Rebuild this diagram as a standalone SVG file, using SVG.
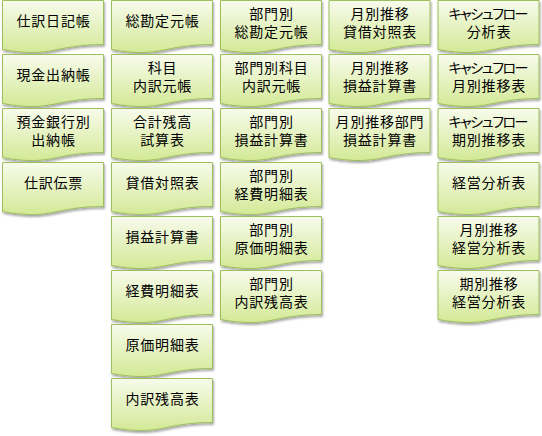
<svg xmlns="http://www.w3.org/2000/svg" xmlns:xlink="http://www.w3.org/1999/xlink" width="542" height="436" viewBox="0 0 542 436">
<style>
.box{fill:url(#g);stroke:#9dbf5c;stroke-width:1;filter:url(#sh)}
text{font-family:"Liberation Sans","Noto Sans CJK JP",sans-serif;font-size:14px;letter-spacing:0.8px;fill:#000;text-anchor:middle}
.kana{font-feature-settings:"palt";letter-spacing:0}
</style>
<defs>
<linearGradient id="g" x1="0" y1="0" x2="0" y2="1">
<stop offset="0" stop-color="#f8fbec"/>
<stop offset="1" stop-color="#d3e996"/>
</linearGradient>
<filter id="sh" x="-10%" y="-10%" width="130%" height="140%">
<feDropShadow dx="1" dy="2" stdDeviation="1.3" flood-color="#000" flood-opacity="0.35"/>
</filter>
<path id="doc" class="box" d="M0,0 H101 V44 C50.5,44 50.5,58 0,49 Z"/>
</defs>
<rect width="542" height="436" fill="#fff"/>
<g id="nodes">
<!-- column 1 -->
<g id="c1r1" transform="translate(2.5,0.5)"><use xlink:href="#doc"/><text x="51" y="25.5">仕訳日記帳</text></g>
<g id="c1r2" transform="translate(2.5,54.5)"><use xlink:href="#doc"/><text x="51" y="25.5">現金出納帳</text></g>
<g id="c1r3" transform="translate(2.5,108.5)"><use xlink:href="#doc"/><text x="51" y="18">預金銀行別</text><text x="51" y="36.5">出納帳</text></g>
<g id="c1r4" transform="translate(2.5,162.5)"><use xlink:href="#doc"/><text x="51" y="25.5">仕訳伝票</text></g>
<!-- column 2 -->
<g id="c2r1" transform="translate(111.5,0.5)"><use xlink:href="#doc"/><text x="51" y="25.5">総勘定元帳</text></g>
<g id="c2r2" transform="translate(111.5,54.5)"><use xlink:href="#doc"/><text x="51" y="18">科目</text><text x="51" y="36.5">内訳元帳</text></g>
<g id="c2r3" transform="translate(111.5,108.5)"><use xlink:href="#doc"/><text x="51" y="18">合計残高</text><text x="51" y="36.5">試算表</text></g>
<g id="c2r4" transform="translate(111.5,162.5)"><use xlink:href="#doc"/><text x="51" y="25.5">貸借対照表</text></g>
<g id="c2r5" transform="translate(111.5,216.5)"><use xlink:href="#doc"/><text x="51" y="25.5">損益計算書</text></g>
<g id="c2r6" transform="translate(111.5,270.5)"><use xlink:href="#doc"/><text x="51" y="25.5">経費明細表</text></g>
<g id="c2r7" transform="translate(111.5,324.5)"><use xlink:href="#doc"/><text x="51" y="25.5">原価明細表</text></g>
<g id="c2r8" transform="translate(111.5,378.5)"><use xlink:href="#doc"/><text x="51" y="25.5">内訳残高表</text></g>
<!-- column 3 -->
<g id="c3r1" transform="translate(220.5,0.5)"><use xlink:href="#doc"/><text x="51" y="18">部門別</text><text x="51" y="36.5">総勘定元帳</text></g>
<g id="c3r2" transform="translate(220.5,54.5)"><use xlink:href="#doc"/><text x="51" y="18">部門別科目</text><text x="51" y="36.5">内訳元帳</text></g>
<g id="c3r3" transform="translate(220.5,108.5)"><use xlink:href="#doc"/><text x="51" y="18">部門別</text><text x="51" y="36.5">損益計算書</text></g>
<g id="c3r4" transform="translate(220.5,162.5)"><use xlink:href="#doc"/><text x="51" y="18">部門別</text><text x="51" y="36.5">経費明細表</text></g>
<g id="c3r5" transform="translate(220.5,216.5)"><use xlink:href="#doc"/><text x="51" y="18">部門別</text><text x="51" y="36.5">原価明細表</text></g>
<g id="c3r6" transform="translate(220.5,270.5)"><use xlink:href="#doc"/><text x="51" y="18">部門別</text><text x="51" y="36.5">内訳残高表</text></g>
<!-- column 4 -->
<g id="c4r1" transform="translate(329,0.5)"><use xlink:href="#doc"/><text x="51" y="18">月別推移</text><text x="51" y="36.5">貸借対照表</text></g>
<g id="c4r2" transform="translate(329,54.5)"><use xlink:href="#doc"/><text x="51" y="18">月別推移</text><text x="51" y="36.5">損益計算書</text></g>
<g id="c4r3" transform="translate(329,108.5)"><use xlink:href="#doc"/><text x="51" y="18">月別推移部門</text><text x="51" y="36.5">損益計算書</text></g>
<!-- column 5 -->
<g id="c5r1" transform="translate(438,0.5)"><use xlink:href="#doc"/><text class="kana" x="50.5" y="18" textLength="80" lengthAdjust="spacing">キャシュフロー</text><text x="51" y="36.5">分析表</text></g>
<g id="c5r2" transform="translate(438,54.5)"><use xlink:href="#doc"/><text class="kana" x="50.5" y="18" textLength="80" lengthAdjust="spacing">キャシュフロー</text><text x="51" y="36.5">月別推移表</text></g>
<g id="c5r3" transform="translate(438,108.5)"><use xlink:href="#doc"/><text class="kana" x="50.5" y="18" textLength="80" lengthAdjust="spacing">キャシュフロー</text><text x="51" y="36.5">期別推移表</text></g>
<g id="c5r4" transform="translate(438,162.5)"><use xlink:href="#doc"/><text x="51" y="25.5">経営分析表</text></g>
<g id="c5r5" transform="translate(438,216.5)"><use xlink:href="#doc"/><text x="51" y="18">月別推移</text><text x="51" y="36.5">経営分析表</text></g>
<g id="c5r6" transform="translate(438,270.5)"><use xlink:href="#doc"/><text x="51" y="18">期別推移</text><text x="51" y="36.5">経営分析表</text></g>
</g>
</svg>
